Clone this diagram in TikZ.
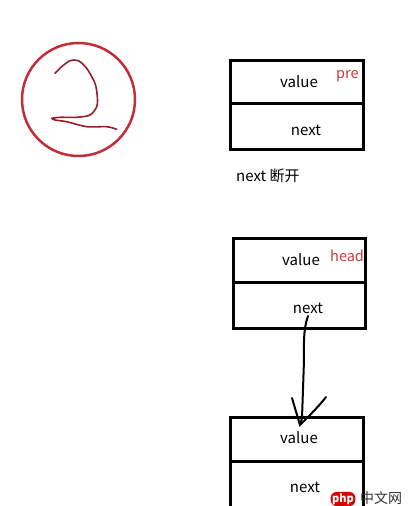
\documentclass[tikz,border=0pt]{standalone}
\usepackage{fontspec}
\setmainfont{Noto Sans CJK SC}
\definecolor{circred}{RGB}{195,45,55}
\definecolor{scrib}{RGB}{150,30,40}
\definecolor{lbl}{RGB}{200,60,60}
\tikzset{
  txt/.style={font=\fontsize{15}{17}\selectfont, inner sep=0pt},
  tag/.style={font=\fontsize{14.5}{16}\selectfont, text=lbl, inner sep=0pt},
}
\begin{document}
\begin{tikzpicture}[x=1pt,y=-1pt]
\useasboundingbox[fill=white] (0,0) rectangle (419,506);
% circle with scribble
\draw[circred, line width=2.5pt] (78.5,99.5) circle[radius=56.5];
\draw[scrib, line width=1.6pt, line cap=round, line join=round]
 plot[smooth, tension=0.5] coordinates {(55,73.3) (61.7,66.7) (70,60.7) (78.3,60.7) (86.7,68.3) (95,83.3) (97.3,96.7) (96.7,106.7) (90,115) (76.7,117.3) (60,117.3) (51.7,118.3)}
 -- plot[smooth, tension=0.5] coordinates {(51.7,118.3) (55,120) (66.7,121.7) (86.7,126.7) (106.7,126.7) (116.7,129.3)};
% box 1
\draw[line width=3pt] (230,60) rectangle (363,149);
\draw[line width=3pt] (230,103) -- (363,103);
\node[txt] (v1) at (299,82) {value};
\node[tag, anchor=west] (p1) at (336,76) {pre};
\node[txt] (n1) at (306,130) {next};
\node[txt, anchor=west] (brk) at (236,176) {next 断开};
% box 2
\draw[line width=3pt] (233,238) rectangle (365,328);
\draw[line width=3pt] (233,282) -- (365,282);
\node[txt] (v2) at (301,260) {value};
\node[tag, anchor=west] (h2) at (330,256) {head};
\node[txt] (n2) at (308,308) {next};
% box 3
\draw[line width=3pt] (230,417) rectangle (363,520);
\draw[line width=3pt] (230,461) -- (363,461);
\node[txt] (v3) at (299,438) {value};
\node[txt] (n3) at (305,487) {next};
% arrow
\coordinate (a0) at (308,316);
\coordinate (a1) at (300,425);
\draw[line width=2pt, line cap=round] (a0) .. controls (303,330) and (304,345) .. (304,360) -- (302,418) -- (a1);
\draw[line width=2pt, line cap=round] (292,398) -- (a1) .. controls (310,415) and (320,405) .. (326,397);
% watermark
\node[fill=red!85!black, text=white, rounded corners=6pt, inner sep=1.5pt, font=\fontsize{11}{12}\selectfont\bfseries] (php) at (343,499) {php};
\node[anchor=west, font=\fontsize{14}{16}\selectfont, text=black!80, inner sep=0pt] (cn) at (360,498) {中文网};
\end{tikzpicture}
\end{document}
